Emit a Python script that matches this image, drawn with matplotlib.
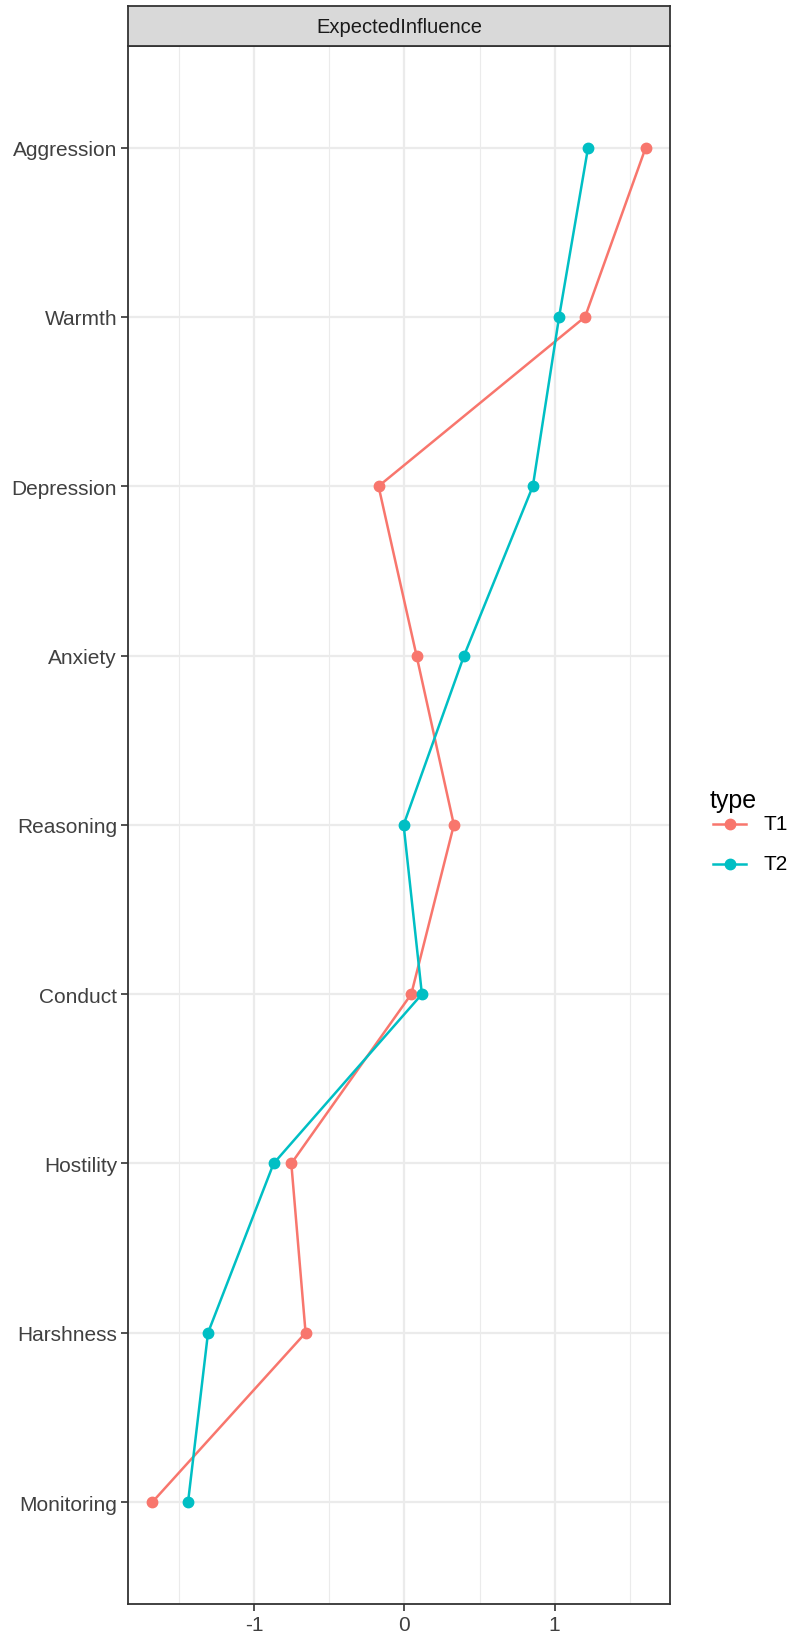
import matplotlib
matplotlib.use("Agg")
import matplotlib.pyplot as plt
from matplotlib.patches import Rectangle
from matplotlib.lines import Line2D

plt.rcParams['font.family'] = ['Liberation Sans', 'DejaVu Sans']

# data
nodes = ["Aggression", "Warmth", "Depression", "Anxiety", "Reasoning",
         "Conduct", "Hostility", "Harshness", "Monitoring"]
t1 = [1.607, 1.203, -0.173, 0.080, 0.329, 0.045, -0.754, -0.659, -1.680]
t2 = [1.223, 1.030, 0.855, 0.397, -0.006, 0.116, -0.872, -1.309, -1.442]
series = {"T1": t1, "T2": t2}
colors = {"T1": "#F8766D", "T2": "#00BFC4"}
xticks = [-1, 0, 1]
xminor = [-1.5, -0.5, 0.5, 1.5]
measure = "ExpectedInfluence"

W, H = 793, 1640
fig = plt.figure(figsize=(W / 100, H / 100), dpi=100)
ax = fig.add_axes([0.1618, 0.02152, 0.6835, 0.94982])

n = len(nodes)
ypos = [n - 1 - i for i in range(n)]

for g in xminor:
    ax.axvline(g, color="#EBEBEB", lw=0.8, zorder=0)
for g in xticks:
    ax.axvline(g, color="#EBEBEB", lw=1.6, zorder=0)
for y in ypos:
    ax.axhline(y, color="#EBEBEB", lw=1.6, zorder=0)

for name, vals in series.items():
    ax.plot(vals, ypos, color=colors[name], lw=1.8, marker="o",
            markersize=7.5, label=name, zorder=3)

ax.set_xlim(-1.84, 1.771)
ax.set_ylim(-0.6, n - 1 + 0.6)
ax.set_xticks(xticks)
ax.set_xticklabels([str(v) for v in xticks])
ax.set_yticks(ypos)
ax.set_yticklabels(nodes)
ax.tick_params(axis="both", length=5, width=1.2, color="#333333",
               labelsize=15, labelcolor="#404040", pad=3)
for s in ax.spines.values():
    s.set_color("#333333")
    s.set_linewidth(1.3)

# facet strip
strip = fig.add_axes([0.1618, 0.97134, 0.6835, 0.02421])
strip.add_patch(Rectangle((0, 0), 1, 1, transform=strip.transAxes,
                          facecolor="#D9D9D9", edgecolor="none"))
strip.set_xticks([])
strip.set_yticks([])
for s in strip.spines.values():
    s.set_color("#333333")
    s.set_linewidth(1.3)
strip.text(0.5, 0.5, measure, ha="center", va="center", fontsize=14.5,
           color="#1A1A1A", transform=strip.transAxes)

# legend drawn by hand to match ggplot's guide placement
fig.text(710 / W, 1 - 801 / H, "type", fontsize=18, color="black",
         ha="left", va="center")
for i, name in enumerate(series):
    yk = 1 - (825 + 40 * i) / H
    fig.add_artist(Line2D([713 / W, 746 / W], [yk, yk], color=colors[name],
                          lw=1.8, transform=fig.transFigure))
    fig.add_artist(Line2D([729.5 / W], [yk], color=colors[name], marker="o",
                          markersize=7.5, lw=0, transform=fig.transFigure))
    fig.text(763 / W, yk, name, fontsize=15, color="black",
             ha="left", va="center")

fig.savefig("out.png", dpi=100)
